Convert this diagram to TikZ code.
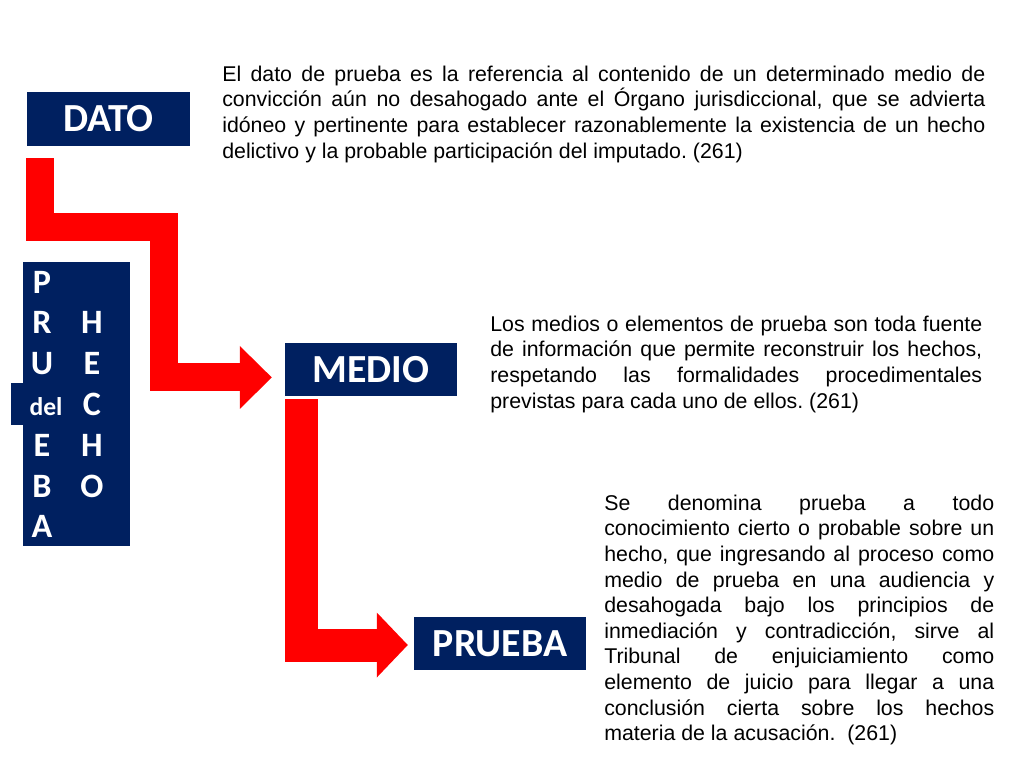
\documentclass[tikz,border=0pt]{standalone}
\usepackage{fontspec}
\setmainfont{Liberation Sans}
\newfontfamily\calibri{Carlito}
\usepackage{tikz}
\usetikzlibrary{arrows.meta,positioning,calc}
\definecolor{azulcaja}{RGB}{0,32,96}
\definecolor{rojoflecha}{RGB}{255,0,0}

\begin{document}
\frenchspacing
\tolerance=10000
\begin{tikzpicture}[
    x=0.703125pt, y=-0.703125pt,
    node distance=2cm,
    font=\fontsize{15}{18}\selectfont,
    caja/.style={
		rectangle,
		fill=azulcaja,
		text=white,
		inner sep=0pt,
		minimum width=120.9pt,
		minimum height=37.3pt,
		font=\calibri\bfseries\fontsize{28}{34}\selectfont
	},
	letra/.style={
		anchor=base,
		text=white,
		inner sep=0pt,
		font=\calibri\bfseries\fontsize{24}{29}\selectfont
	},
	texto/.style={
		anchor=north west,
		inner sep=0pt,
		align=justify,
		font=\fontsize{15}{18}\selectfont
	},
	flecha/.style={
		draw=rojoflecha,
		line join=miter,
		line cap=butt
	}
  ]
  \fill [white] (0,0) rectangle (1024,768);
  \useasboundingbox (0,0) rectangle (1024,768);

    % We start by placing the blocks
  \node [caja, minimum width=114.6pt, minimum height=38pt] (dato) at (108.5,119) {DATO};

  \node [caja, node distance=176.1pt, below of=dato, xshift=184.6pt] (medio) {MEDIO};

  \node [caja, node distance=192.7pt, below of=medio, xshift=90.7pt] (prueba) {PRUEBA};

  % the tall box on the left
  \node [fill=azulcaja, inner sep=0pt, minimum width=75.2pt, minimum height=199.7pt] (hecho) at (76.5,404) {};
  \fill [azulcaja] ($(hecho.west)+(-12,-21)$) rectangle ($(hecho.west)+(0,21)$);

  \foreach \letra/\fila in {P/0,R/1,U/2,E/4,B/5,A/6}
    \node [letra] (izq\fila) at (42,{293+40.8*\fila}) {\letra};
  \foreach \letra/\fila in {H/1,E/2,C/3,H/4,O/5}
    \node [letra] (der\fila) at (92,{293+40.8*\fila}) {\letra};
  \node [letra, font=\calibri\bfseries\fontsize{18}{22}\selectfont] (del) at (46,415) {del};

  % the texts
  \node [texto, text width=536.5pt] (txtdato) at (222,65.5)
 {El dato de prueba es la referencia al contenido de un determinado medio de\linebreak
  convicción aún no desahogado ante el Órgano jurisdiccional, que se advierta\linebreak
  idóneo y pertinente para establecer razonablemente la existencia de un hecho\linebreak
  delictivo y la probable participación del imputado. (261)};

  \node [texto, text width=345.9pt] (txtmedio) at (490,315.5)
 {Los medios o elementos de prueba son toda fuente\linebreak
  de información que permite reconstruir los hechos,\linebreak
  respetando las formalidades procedimentales\linebreak
  previstas para cada uno de ellos. (261)};

  \node [texto, text width=274.2pt] (txtprueba) at (604,494.5)
 {Se denomina prueba a todo\linebreak
  conocimiento cierto o probable sobre un\linebreak
  hecho, que ingresando al proceso como\linebreak
  medio de prueba en una audiencia y\linebreak
  desahogada bajo los principios de\linebreak
  inmediación y contradicción, sirve al\linebreak
  Tribunal de enjuiciamiento como\linebreak
  elemento de juicio para llegar a una\linebreak
  conclusión cierta sobre los hechos\linebreak
  materia de la acusación.\ \ (261)};

  % the red arrows
  \coordinate (inicio1) at ($(dato.south west)+(13.5,12)$);
  \coordinate (codo1) at (164,227);
  \coordinate (fin1) at ($(medio.west)+(-13,8)$);
  \coordinate (inicio2) at ($(medio.south west)+(16.5,3)$);
  \coordinate (fin2) at ($(prueba.west)+(-6,1.5)$);

 \draw [flecha, line width=19.7pt, -{Triangle[length=22.5pt,width=44.3pt,line width=0pt]}] (inicio1) |- (codo1) |- (fin1);
 \draw [flecha, line width=23.2pt, -{Triangle[length=21.8pt,width=45.7pt,line width=0pt]}] (inicio2) |- (fin2);

\end{tikzpicture}
\end{document}
